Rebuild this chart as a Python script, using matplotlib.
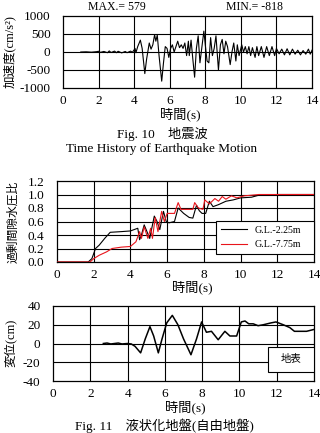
import numpy as np
import matplotlib
matplotlib.use("Agg")
import matplotlib.pyplot as plt
from matplotlib.patches import Rectangle

plt.rcParams['font.family'] = ['Liberation Serif', 'Noto Sans CJK JP']
plt.rcParams['font.size'] = 9.5

# acceleration record (s, cm/s2)
acc_t = [1.0, 1.3, 1.6, 1.9, 2.0, 2.1, 2.3, 2.5, 2.6, 2.7, 2.9, 3.0, 3.1, 3.3, 3.5, 3.6, 3.8, 3.9, 4.0, 4.05, 4.1,
         4.2, 4.35, 4.45, 4.6, 4.7, 4.85, 4.95, 5.05, 5.15, 5.22, 5.3, 5.4, 5.55, 5.65, 5.75, 5.85, 5.95, 6.05,
         6.15, 6.25, 6.35, 6.45, 6.55, 6.65, 6.75, 6.85, 6.95, 7.05, 7.1, 7.2, 7.3, 7.4, 7.5, 7.6, 7.7, 7.8,
         7.92, 8.0, 8.1, 8.2, 8.3, 8.4, 8.5, 8.6, 8.74, 8.85, 8.95, 9.05, 9.15, 9.25, 9.4, 9.5, 9.6, 9.72,
         9.8, 9.9, 10.0, 10.05, 10.15, 10.25, 10.35, 10.45, 10.55, 10.65, 10.8, 10.9, 11.0, 11.15, 11.3,
         11.45, 11.6, 11.75, 11.9, 12.0, 12.15, 12.3, 12.45, 12.6, 12.75, 12.9, 13.05, 13.2, 13.35, 13.5,
         13.65, 13.8, 13.9, 14.0]
acc_v = [0, 5, -5, 10, 20, -10, 15, -20, 30, -15, 25, -20, 20, -25, 15, -20, 25, -10, 60, 100, -20,
         150, 330, 100, -600, -200, 250, 80, 200, 480, 300, 470, -100, -810, -300, 150, 100, -150, 100,
         200, 0, 150, 300, 120, 200, 100, 250, -100, 300, -100, 330, -200, -700, 100, 450, -300, 100,
         580, 200, -250, -300, 400, -100, 100, 450, -500, 200, 350, -50, 300, 150, -350, 0, 250, -250,
         200, -100, 100, 200, 0, 150, -50, 150, -100, 120, -150, 150, -100, 150, -150,
         150, -100, 150, -100, 100, -50, 80, -80, 90, -80, 80, -60, 50, -80, 40,
         -60, 80, -60, 50]

# excess pore water pressure ratio
pw1_t = [0, 1.7, 1.9, 2.1, 2.3, 2.6, 2.9, 3.5, 4.0, 4.4, 4.5, 4.6, 4.75, 4.9, 5.05, 5.3, 5.45, 5.6, 5.8,
         5.95, 6.1, 6.4, 6.6, 6.9, 7.2, 7.4, 7.6, 7.75, 7.9, 8.1, 8.3, 8.5, 8.8, 9.2, 9.6, 10.0, 10.6,
         11.0, 12.0, 13.0, 14.0]
pw1_v = [0, 0, 0.05, 0.2, 0.25, 0.35, 0.44, 0.45, 0.46, 0.5, 0.33, 0.4, 0.55, 0.45, 0.35, 0.68, 0.6,
         0.48, 0.75, 0.6, 0.58, 0.6, 0.8, 0.72, 0.66, 0.65, 0.84, 0.76, 0.72, 0.72, 0.9, 0.82, 0.85,
         0.9, 0.92, 0.95, 0.96, 0.99, 1.0, 1.0, 1.0]
pw2_t = [0, 1.8, 2.0, 2.3, 2.7, 3.0, 3.5, 4.0, 4.3, 4.5, 4.6, 4.75, 4.95, 5.1, 5.2, 5.35, 5.5, 5.7,
         5.85, 6.0, 6.4, 6.6, 6.75, 7.4, 7.5, 7.7, 7.95, 8.05, 8.3, 8.6, 8.8, 9.0, 9.2, 9.5, 9.8,
         10.2, 11.0, 14.0]
pw2_v = [0, 0, 0.05, 0.1, 0.15, 0.2, 0.22, 0.23, 0.3, 0.45, 0.35, 0.52, 0.35, 0.5, 0.35, 0.66, 0.45,
         0.75, 0.6, 0.72, 0.72, 0.88, 0.78, 0.78, 0.88, 0.8, 0.78, 0.92, 0.86, 0.94, 0.9, 0.97, 0.93,
         0.98, 0.95, 0.98, 1.0, 1.0]

# surface displacement (cm)
dis_t = [2.7, 2.9, 3.1, 3.3, 3.5, 3.7, 4.0, 4.2, 4.4, 4.7, 4.95, 5.2, 5.4, 5.65, 5.85, 6.1, 6.4, 6.7,
         7.0, 7.4, 7.7, 7.97, 8.23, 8.5, 8.86, 9.22, 9.49, 9.85, 10.1, 10.3, 10.5, 10.74, 11.0, 11.28,
         11.7, 11.96, 12.35, 12.7, 12.95, 13.16, 13.6, 14.0]
dis_v = [0, 0.5, -0.5, 0, 0.5, -0.5, 0, -0.5, -3, -10, 5, 18, 8, -10, 5, 22, 30, 20,
         5, -12, 5, 23, 12, 13, 4, 13, 8, 8, 23, 24, 21, 21, 19, 20,
         22, 23, 20, 17, 13, 13, 13, 15]

xticks = np.arange(0, 15, 2)
W, H = 320, 433

fig = plt.figure(figsize=(3.2, 4.33), dpi=100)


def box(l, t, r, b):
    return fig.add_axes([l / W, 1 - b / H, (r - l) / W, (b - t) / H])


def style(ax, yt, fmt):
    ax.set_xlim(0, 14)
    ax.set_xticks(xticks)
    ax.set_yticks(yt)
    ax.set_ylim(yt[0], yt[-1])
    ax.set_yticklabels([fmt % v for v in yt])
    ax.tick_params(axis='x', length=0, pad=5)
    ax.tick_params(axis='y', length=0, pad=9)
    for s in ax.spines.values():
        s.set_color('black')
        s.set_linewidth(0.9)
    # grid lines
    for xv in xticks[1:-1]:
        ax.axvline(xv, color='black', lw=0.8, zorder=1)
    for yv in yt[1:-1]:
        ax.axhline(yv, color='black', lw=0.8, zorder=1)


ax1 = box(63, 16, 312, 88)
ax1.plot(acc_t, acc_v, color='black', lw=0.8, zorder=3)
style(ax1, [-1000, -500, 0, 500, 1000], '%d')

ax2 = box(57, 181, 314, 262)
ax2.plot(pw1_t, pw1_v, color='black', lw=0.8, label='G.L.-2.25m', zorder=3)
ax2.plot(pw2_t, pw2_v, color='#e8141b', lw=0.8, label='G.L.-7.75m', zorder=3)
style(ax2, [0, 0.2, 0.4, 0.6, 0.8, 1.0, 1.2], '%.1f')
leg = ax2.legend(loc='lower left', bbox_to_anchor=(0.619, 0.1, 0.381, 0.344), mode='expand',
                 fontsize=7.2, frameon=True, fancybox=False, edgecolor='black', framealpha=1,
                 handlelength=2.6, borderpad=0.45, labelspacing=0.55, borderaxespad=0)
leg.get_frame().set_linewidth(0.8)
leg.set_zorder(5)

ax3 = box(53, 306, 314, 381)
ax3.plot(dis_t, dis_v, color='black', lw=1.1, zorder=3)
style(ax3, [-40, -20, 0, 20, 40], '%d')
ax3.add_patch(Rectangle((0.824, 0.12), 0.176, 0.333, transform=ax3.transAxes, fc='white', ec='black',
                        lw=0.8, zorder=5))
ax3.text(0.912, 0.29, '地表', transform=ax3.transAxes, ha='center', va='center', fontsize=7.5, zorder=6)


def ft(x, y, s, **kw):
    fig.text(x / W, 1 - y / H, s, **kw)


ft(117, 10, 'MAX.= 579', ha='center', va='baseline', fontsize=8.5)
ft(255, 10, 'MIN.= -818', ha='center', va='baseline', fontsize=8.5)
ft(180, 114, '時間(s)', ha='center', va='center', fontsize=9.5)
ft(10, 52, '加速度(cm/s²)', ha='center', va='center', rotation=90, fontsize=9)
ft(162, 134, 'Fig. 10\u3000地震波', ha='center', va='center', fontsize=9.5)
ft(162, 149, 'Time History of Earthquake Motion', ha='center', va='center', fontsize=9.5)
ft(13, 222, '過剰間隙水圧比', ha='center', va='center', rotation=90, fontsize=8.5)
ft(192, 287, '時間(s)', ha='center', va='center', fontsize=9.5)
ft(10, 343, '変位(cm)', ha='center', va='center', rotation=90, fontsize=9)
ft(185, 407, '時間(s)', ha='center', va='center', fontsize=9.5)
ft(164, 426, 'Fig. 11\u3000液状化地盤(自由地盤)', ha='center', va='center', fontsize=9.5)

fig.savefig('out.png', dpi=100)
